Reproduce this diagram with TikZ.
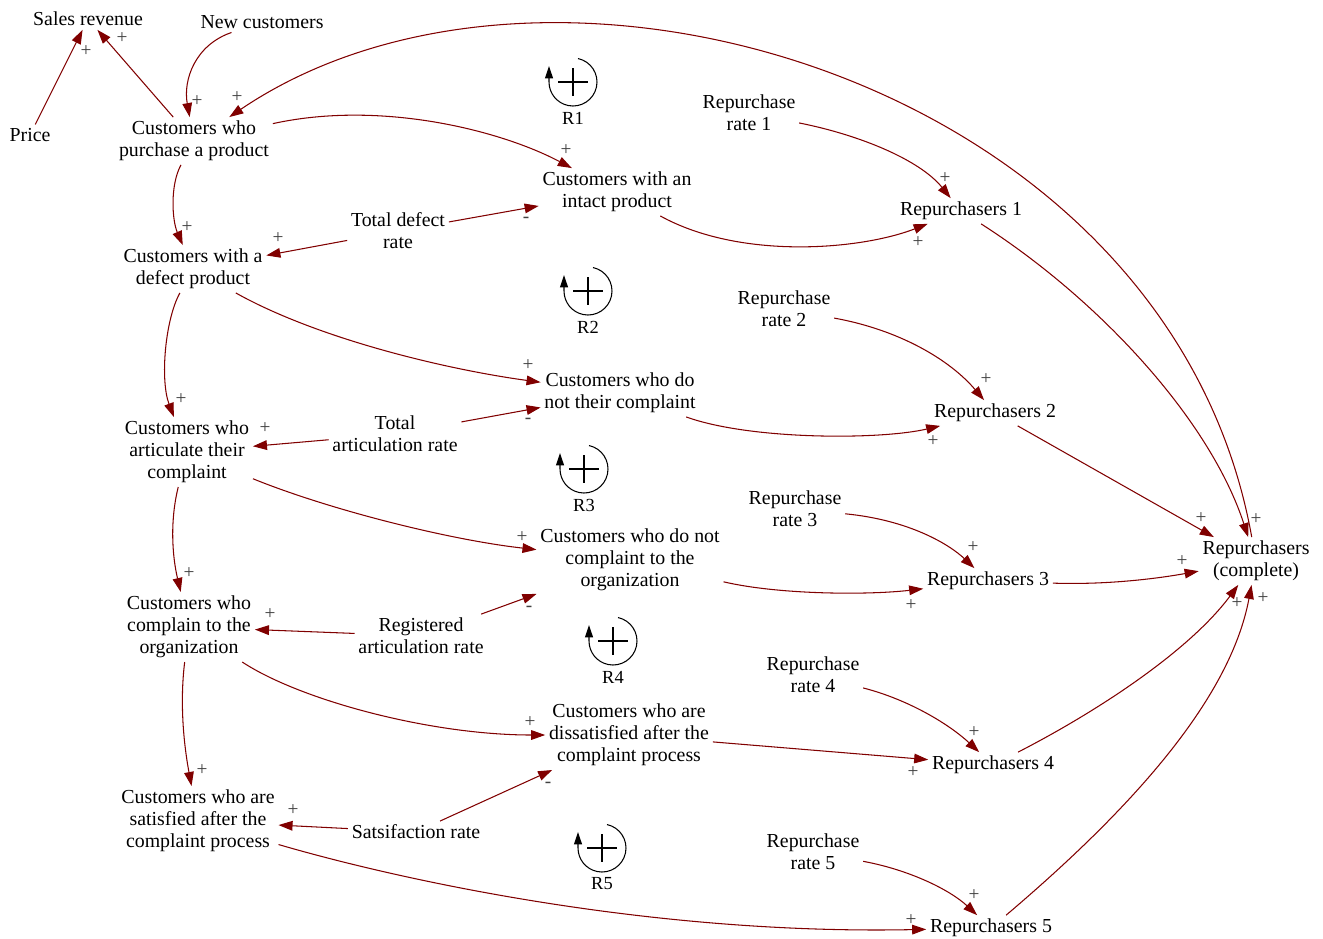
\documentclass[tikz,border=0pt]{standalone}
\usepackage{fontspec}
\setmainfont{Liberation Serif}
\usetikzlibrary{arrows.meta}

\definecolor{linkred}{RGB}{128,0,0}

\begin{document}
\begin{tikzpicture}[x=0.02cm, y=-0.02cm]
  \useasboundingbox (0,0) rectangle (1323,938);

  \path
     coordinate (sales)      at (88,19)
     coordinate (newcust)    at (262,22)
     coordinate (price)      at (30,135)
     coordinate (purchase)   at (194,141)
     coordinate (intact)     at (617,192)
     coordinate (rateone)    at (749,113)
     coordinate (repone)     at (961,211)
     coordinate (totdefect)  at (398,231)
     coordinate (defect)     at (193,269)
     coordinate (ratetwo)    at (784,309)
     coordinate (nottheir)   at (620,393)
     coordinate (reptwo)     at (995,413)
     coordinate (articulate) at (187,452)
     coordinate (totartic)   at (395,434)
     coordinate (ratethree)  at (795,509)
     coordinate (notorg)     at (630,560)
     coordinate (repthree)   at (988,581)
     coordinate (complete)   at (1256,561)
     coordinate (complain)   at (189,627)
     coordinate (registered) at (421,636)
     coordinate (ratefour)   at (813,675)
     coordinate (dissat)     at (629,735)
     coordinate (repfour)    at (993,765)
     coordinate (satisfied)  at (198,821)
     coordinate (satisf)     at (416,832)
     coordinate (ratefive)   at (813,852)
     coordinate (repfive)    at (991,928)
    ;

  % Variables
  \tikzset{varstyle/.style = {align=center, inner sep=2pt, font=\fontsize{11.3}{12.6}\selectfont}}

  \node [varstyle] (Sales) at (sales) {Sales revenue};
  \node [varstyle] (Newcust) at (newcust) {New customers};
  \node [varstyle] (Price) at (price) {Price};
  \node [varstyle] (Purchase) at (purchase) {Customers who\\purchase a product};
  \node [varstyle] (Intact) at (intact) {Customers with an\\intact product};
  \node [varstyle] (Rateone) at (rateone) {Repurchase\\rate 1};
  \node [varstyle] (Repone) at (repone) {Repurchasers 1};
  \node [varstyle] (Totdefect) at (totdefect) {Total defect\\rate};
  \node [varstyle] (Defect) at (defect) {Customers with a\\defect product};
  \node [varstyle] (Ratetwo) at (ratetwo) {Repurchase\\rate 2};
  \node [varstyle] (Nottheir) at (nottheir) {Customers who do\\not their complaint};
  \node [varstyle] (Reptwo) at (reptwo) {Repurchasers 2};
  \node [varstyle] (Articulate) at (articulate) {Customers who\\articulate their\\complaint};
  \node [varstyle] (Totartic) at (totartic) {Total\\articulation rate};
  \node [varstyle] (Ratethree) at (ratethree) {Repurchase\\rate 3};
  \node [varstyle] (Notorg) at (notorg) {Customers who do not\\complaint to the\\organization};
  \node [varstyle] (Repthree) at (repthree) {Repurchasers 3};
  \node [varstyle] (Complete) at (complete) {Repurchasers\\(complete)};
  \node [varstyle] (Complain) at (complain) {Customers who\\complain to the\\organization};
  \node [varstyle] (Registered) at (registered) {Registered\\articulation rate};
  \node [varstyle] (Ratefour) at (ratefour) {Repurchase\\rate 4};
  \node [varstyle] (Dissat) at (dissat) {Customers who are\\dissatisfied after the\\complaint process};
  \node [varstyle] (Repfour) at (repfour) {Repurchasers 4};
  \node [varstyle] (Satisfied) at (satisfied) {Customers who are\\satisfied after the\\complaint process};
  \node [varstyle] (Satisf) at (satisf) {Satsifaction rate};
  \node [varstyle] (Ratefive) at (ratefive) {Repurchase\\rate 5};
  \node [varstyle] (Repfive) at (repfive) {Repurchasers 5};

  % Loop markers
  \tikzset{looparc/.style = {draw, line width=0.6pt, -{Triangle[length=7pt,width=4.5pt]}}}
  \tikzset{loopplus/.style = {draw, line width=1.3pt}}
  \tikzset{looplabel/.style = {inner sep=1pt, font=\fontsize{10.5}{12}\selectfont}}

  \foreach \lp/\cx/\cy in {R1/573/82, R2/588/291, R3/584/469, R4/613/641, R5/602/848} {
    \path [looparc] ([shift={(78:0.48cm)}]\cx,\cy) arc [start angle=78, end angle=-180, radius=0.48cm] -- ++(0,-16);
    \path [loopplus] (\cx-15,\cy) -- (\cx+15,\cy) (\cx,\cy-14) -- (\cx,\cy+14);
    \node [looplabel] (\lp) at (\cx,\cy+36) {\lp};
  }

  % Connecting arrows
  \tikzset{arrowstyle/.style = {draw, linkred, line width=0.6pt, -{Triangle[length=8pt,width=5.5pt]}}}
  \tikzset{pol/.style = {inner sep=0pt, text=black!75, font=\fontsize{11}{11}\selectfont}}

  \path [arrowstyle] (Price) -- (Sales) node [pol] (s1) at (86,51) {+};
  \path [arrowstyle] (Purchase) -- (Sales) node [pol] (s2) at (122,38) {+};
  \path [arrowstyle] (Newcust) .. controls (195,45) and (183,80) .. (Purchase) node [pol] (s3) at (197,101) {+};
  \path [arrowstyle] (Complete) .. controls (1170,80) and (550,-100) .. (Purchase) node [pol] (s4) at (237,97) {+};

  \path [arrowstyle] (Purchase) .. controls (380,100) and (500,130) .. (Intact) node [pol] (s5) at (566,150) {+};
  \path [arrowstyle] (Totdefect) -- (Intact) node [pol] (s6) at (526,220) {-};
  \path [arrowstyle] (Totdefect) -- (Defect) node [pol] (s7) at (278,238) {+};
  \path [arrowstyle] (Purchase) .. controls (170,185) and (172,220) .. (Defect) node [pol] (s8) at (187,227) {+};
  \path [arrowstyle] (Intact) .. controls (740,260) and (860,250) .. (Repone) node [pol] (s9) at (918,242) {+};
  \path [arrowstyle] (Rateone) .. controls (860,135) and (920,160) .. (Repone) node [pol] (s10) at (945,178) {+};

  \path [arrowstyle] (Defect) .. controls (320,340) and (450,370) .. (Nottheir) node [pol] (s11) at (528,365) {+};
  \path [arrowstyle] (Totartic) -- (Nottheir) node [pol] (s12) at (528,421) {-};
  \path [arrowstyle] (Totartic) -- (Articulate) node [pol] (s13) at (265,428) {+};
  \path [arrowstyle] (Defect) .. controls (165,320) and (160,380) .. (Articulate) node [pol] (s14) at (181,399) {+};
  \path [arrowstyle] (Nottheir) .. controls (750,440) and (880,440) .. (Reptwo) node [pol] (s15) at (933,441) {+};
  \path [arrowstyle] (Ratetwo) .. controls (900,330) and (950,360) .. (Reptwo) node [pol] (s16) at (986,379) {+};

  \path [arrowstyle] (Articulate) .. controls (330,510) and (450,540) .. (Notorg) node [pol] (s17) at (522,537) {+};
  \path [arrowstyle] (Registered) -- (Notorg) node [pol] (s18) at (529,609) {-};
  \path [arrowstyle] (Registered) -- (Complain) node [pol] (s19) at (270,614) {+};
  \path [arrowstyle] (Articulate) .. controls (170,520) and (172,555) .. (Complain) node [pol] (s20) at (189,573) {+};
  \path [arrowstyle] (Notorg) .. controls (780,595) and (870,595) .. (Repthree) node [pol] (s21) at (911,605) {+};
  \path [arrowstyle] (Ratethree) .. controls (910,520) and (950,545) .. (Repthree) node [pol] (s22) at (973,547) {+};

  \path [arrowstyle] (Complain) .. controls (300,700) and (430,735) .. (Dissat) node [pol] (s23) at (530,722) {+};
  \path [arrowstyle] (Satisf) -- (Dissat) node [pol] (s24) at (548,785) {-};
  \path [arrowstyle] (Satisf) -- (Satisfied) node [pol] (s25) at (293,810) {+};
  \path [arrowstyle] (Complain) .. controls (180,700) and (183,740) .. (Satisfied) node [pol] (s26) at (202,770) {+};
  \path [arrowstyle] (Dissat) -- (Repfour) node [pol] (s27) at (913,772) {+};
  \path [arrowstyle] (Ratefour) .. controls (910,700) and (950,725) .. (Repfour) node [pol] (s28) at (974,732) {+};
  \path [arrowstyle] (Satisfied) .. controls (400,880) and (650,935) .. (Repfive) node [pol] (s29) at (911,920) {+};
  \path [arrowstyle] (Ratefive) .. controls (910,870) and (950,890) .. (Repfive) node [pol] (s30) at (974,895) {+};

  % Into the total
  \path [arrowstyle] (Repone) .. controls (1100,300) and (1210,420) .. (Complete) node [pol] (s31) at (1256,519) {+};
  \path [arrowstyle] (Reptwo) -- (Complete) node [pol] (s32) at (1201,518) {+};
  \path [arrowstyle] (Repthree) .. controls (1110,585) and (1160,578) .. (Complete) node [pol] (s33) at (1182,561) {+};
  \path [arrowstyle] (Repfour) .. controls (1100,710) and (1190,650) .. (Complete) node [pol] (s34) at (1237,603) {+};
  \path [arrowstyle] (Repfive) .. controls (1130,810) and (1230,700) .. (Complete) node [pol] (s35) at (1263,598) {+};

\end{tikzpicture}
\end{document}
